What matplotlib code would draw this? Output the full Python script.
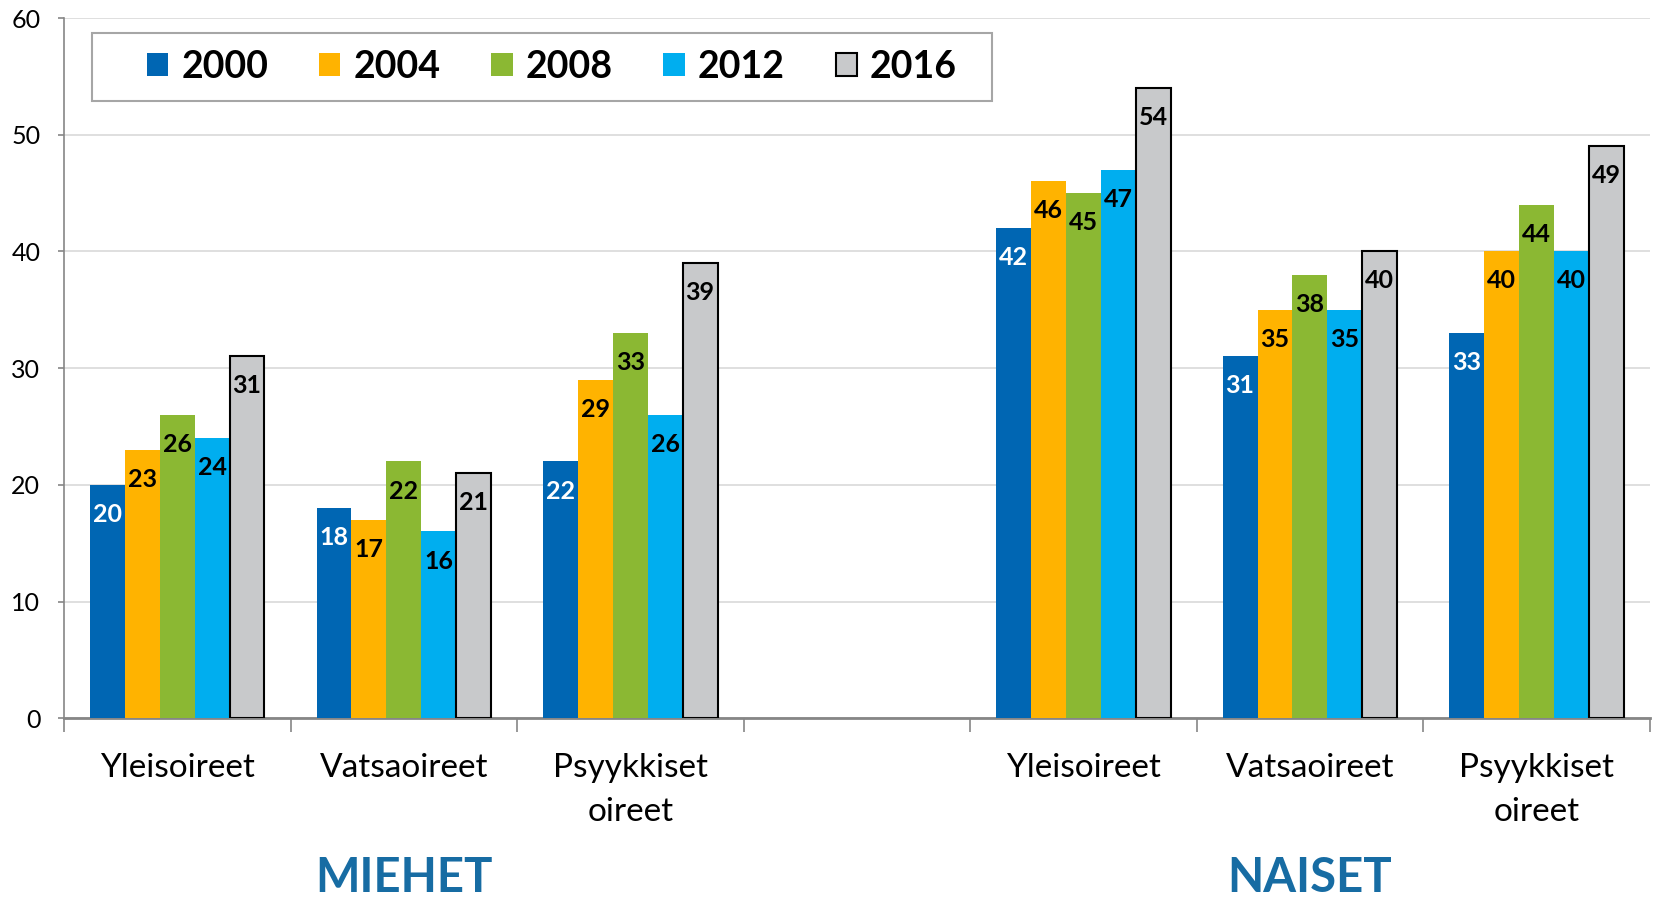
import matplotlib.pyplot as plt
import matplotlib.transforms as mtransforms
from matplotlib.patches import Rectangle
import numpy as np

plt.rcParams['font.family'] = ['Lato', 'DejaVu Sans']

# category slots: three for men, an empty gap, three for women
positions = [0, 1, 2, 4, 5, 6]
categories = ['Yleisoireet', 'Vatsaoireet', 'Psyykkiset\noireet',
              'Yleisoireet', 'Vatsaoireet', 'Psyykkiset\noireet']
years = ['2000', '2004', '2008', '2012', '2016']

y2000 = [20, 18, 22, 42, 31, 33]
y2004 = [23, 17, 29, 46, 35, 40]
y2008 = [26, 22, 33, 45, 38, 44]
y2012 = [24, 16, 26, 47, 35, 40]
y2016 = [31, 21, 39, 54, 40, 49]

groups = ['MIEHET', 'NAISET']
group_pos = [1, 5]


def main():
    series = [y2000, y2004, y2008, y2012, y2016]
    colors = ['#0066B3', '#FFB300', '#8BB833', '#00AEEF', '#C8C9CB']
    edges = [None, None, None, None, 'black']
    label_colors = ['white', 'black', 'black', 'black', 'black']

    fig = plt.figure(figsize=(16.53, 9), dpi=100)
    ax = fig.add_axes([0.0387, 0.202, 0.9593, 0.778])

    width = 0.154
    x = np.array(positions, dtype=float)
    for i, vals in enumerate(series):
        offs = (i - 2) * width
        if edges[i]:
            bars = ax.bar(x + offs, vals, width, color=colors[i], edgecolor=edges[i],
                          linewidth=1.5, label=years[i], zorder=3)
        else:
            bars = ax.bar(x + offs, vals, width, color=colors[i], label=years[i], zorder=3)
        for b, v in zip(bars, vals):
            ax.annotate(str(v), (b.get_x() + b.get_width() / 2, v), xytext=(0, -13),
                        textcoords='offset points', ha='center', va='top',
                        fontsize=18, fontweight='bold', color=label_colors[i], zorder=4)

    ax.set_xlim(-0.5, 6.5)
    ax.set_ylim(0, 60)
    ax.set_yticks(range(0, 61, 10))
    ax.yaxis.grid(True, color='#D9D9D9', linewidth=1.2, zorder=0)
    ax.tick_params(axis='y', labelsize=18, length=4, pad=13, color='#868686', width=1.2)

    ax.set_xticks(positions)
    ax.set_xticklabels(categories, fontsize=24, linespacing=1.6)
    ax.tick_params(axis='x', length=0, pad=25)
    ax.set_xticks(np.arange(-0.5, 7, 1), minor=True)
    ax.tick_params(axis='x', which='minor', length=10, color='#868686', width=1.2)

    for s in ['top', 'right']:
        ax.spines[s].set_visible(False)
    ax.spines['left'].set_color('#868686')
    ax.spines['bottom'].set_color('#868686')
    ax.spines['left'].set_linewidth(1.2)
    ax.spines['bottom'].set_linewidth(2)

    trans = mtransforms.blended_transform_factory(ax.transData, fig.transFigure)
    for g, p in zip(groups, group_pos):
        ax.text(p, 0.024, g, transform=trans, ha='center', va='center',
                fontsize=34, fontweight='bold', color='#176CA3')

    # legend frame drawn separately so its size matches the original
    fx0, fx1, fy0, fy1 = 92 / 1653, 992 / 1653, 1 - 101 / 900, 1 - 33 / 900
    ax.add_patch(Rectangle((fx0, fy0), fx1 - fx0, fy1 - fy0, transform=fig.transFigure,
                           facecolor='white', edgecolor='#A6A6A6', linewidth=1.5,
                           zorder=5, clip_on=False))
    leg = ax.legend(ncol=5, loc='center', bbox_to_anchor=(552 / 1653, 1 - 67 / 900),
                    bbox_transform=fig.transFigure, frameon=False,
                    handlelength=0.57, handleheight=0.57, handletextpad=0.35,
                    columnspacing=1.35, prop={'size': 27, 'weight': 'bold'})
    leg.set_zorder(6)

    fig.savefig('out.png', dpi=100)


if __name__ == "__main__":
    main()
